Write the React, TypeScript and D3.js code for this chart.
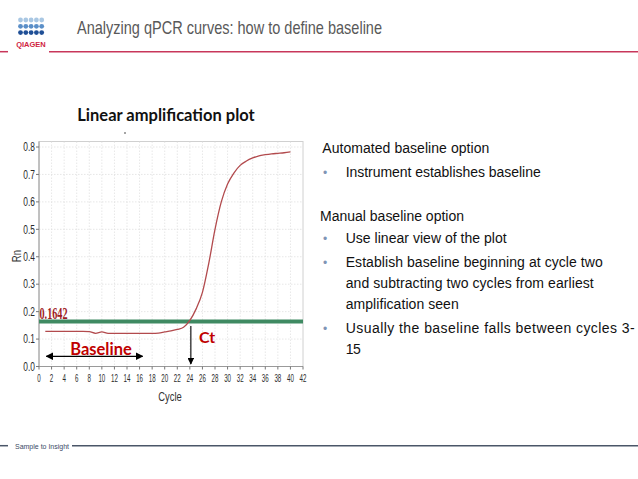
import React from "react";
import * as d3 from "d3";

const cycles = [1,2,3,4,5,6,7,8,9,10,11,12,13,14,15,16,17,18,19,20,21,22,23,24,25,26,27,28,29,30,31,32,33,34,35,36,37,38,39,40];
const rnValues = [0.128,0.128,0.128,0.128,0.128,0.128,0.128,0.127,0.121,0.126,0.121,0.121,0.121,0.121,0.121,0.121,0.121,0.121,0.122,0.126,0.13,0.135,0.143,0.168,0.21,0.27,0.375,0.5,0.6,0.665,0.705,0.733,0.749,0.76,0.768,0.772,0.775,0.777,0.779,0.782];
const threshold = 0.1642;
const xTicks = d3.range(0, 43, 2);
const yTicks = [0, 0.1, 0.2, 0.3, 0.4, 0.5, 0.6, 0.7, 0.8];
const ctCycle = 24;
const baselineRange = [1, 16];

const headingAuto = "Automated baseline option";
const bulletsAuto = ["Instrument establishes baseline"];
const headingManual = "Manual baseline option";
const bulletsManual = [
  ["Use linear view of the plot"],
  ["Establish baseline beginning  at cycle two", "and subtracting two cycles from earliest", "amplification seen"],
  ["Usually  the baseline falls between cycles 3-", "15"],
];
const manualWidths = [[161], [257, 248, 113], [289, 15]];

function Narrow({ x, y, anchor = "start", size, sx = 0.78, fill = "#333", children }: any) {
  return (
    <text transform={`translate(${x},${y}) scale(${sx},1)`} textAnchor={anchor} fontFamily="'Liberation Sans', Arial, sans-serif" fontSize={size} fill={fill}>
      {children}
    </text>
  );
}

export default function App() {
  const x = d3.scaleLinear().domain([0, 42]).range([39, 303]);
  const y = d3.scaleLinear().domain([0, 0.8]).range([366.5, 147]);
  const line = d3.line<number>().x((_, i) => x(cycles[i])).y((d) => y(d)).curve(d3.curveMonotoneX);
  const sans = "'Liberation Sans', Arial, sans-serif";
  const calibri = "Lato, 'Open Sans', sans-serif";
  const dotBlues = ["#a9c7e3", "#5b8fc8", "#1f4f96"];

  let ty = 243.3;
  const manualLines: any[] = [];
  bulletsManual.forEach((b, bi) => {
    b.forEach((t, li) => {
      if (li === 0) manualLines.push(<text key={`b${bi}`} x={323} y={ty} fill="#7f95b5" fontSize={12}>•</text>);
      manualLines.push(
        <text key={`t${bi}-${li}`} x={345.7} y={ty} textLength={manualWidths[bi][li]} lengthAdjust="spacing">{t}</text>
      );
      ty += 21;
    });
    ty += 3;
  });

  return (
    <div style={{ position: "absolute", left: 0, top: 0 }}>
      <svg width={638} height={479} style={{ display: "block", background: "#fff" }}>
        {/* Header */}
        {dotBlues.map((c, r) =>
          d3.range(5).map((k) => (
            <circle key={`d${r}-${k}`} cx={20.5 + k * 5.3} cy={20 + r * 6.3} r={2.4} fill={c} />
          ))
        )}
        <text x={31} y={47} textAnchor="middle" fontFamily={sans} fontWeight="bold" fontSize={7.5} fill="#d0243f">QIAGEN</text>
        <line x1={0} x2={8} y1={51.7} y2={51.7} stroke="#c8365a" strokeWidth={1.5} />
        <line x1={49} x2={638} y1={51.7} y2={51.7} stroke="#c8365a" strokeWidth={1.5} />
        <text x={77} y={34.3} fontFamily={sans} fontSize={18.5} fill="#595959" textLength={305} lengthAdjust="spacingAndGlyphs">Analyzing qPCR curves: how to define baseline</text>

        {/* Chart title */}
        <text x={166} y={120.5} textAnchor="middle" fontFamily={calibri} fontWeight="bold" fontSize={16.5} fill="#111">Linear amplification plot</text>
        <circle cx={125} cy={133} r={0.8} fill="#333" />

        {/* Plot frame & grid */}
        <rect x={x(0)} y={141.5} width={x(42) - x(0)} height={y(0) - 141.5} fill="none" stroke="#d0d0d0" strokeWidth={1} />
        {xTicks.slice(1, -1).map((t) => (
          <line key={`gx${t}`} x1={x(t)} x2={x(t)} y1={141.5} y2={y(0)} stroke="#dcdcdc" strokeWidth={0.7} strokeDasharray="1.5,1.5" />
        ))}
        {yTicks.slice(1).map((t) => (
          <line key={`gy${t}`} x1={x(0)} x2={x(42)} y1={y(t)} y2={y(t)} stroke="#dcdcdc" strokeWidth={0.7} strokeDasharray="1.5,1.5" />
        ))}
        {/* Axes */}
        <line x1={x(0)} x2={x(0)} y1={141.5} y2={y(0)} stroke="#9a9a9a" strokeWidth={1} />
        <line x1={x(0)} x2={x(42)} y1={y(0)} y2={y(0)} stroke="#9a9a9a" strokeWidth={1} />
        {yTicks.map((t) => (
          <g key={`yt${t}`}>
            <line x1={x(0) - 3} x2={x(0)} y1={y(t)} y2={y(t)} stroke="#777" />
            <Narrow x={x(0) - 4} y={y(t) + 4.2} anchor="end" size={12} sx={0.7} fill="#2a2a2a">{t.toFixed(1)}</Narrow>
          </g>
        ))}
        {xTicks.map((t) => (
          <g key={`xt${t}`}>
            <line x1={x(t)} x2={x(t)} y1={y(0)} y2={y(0) + 3} stroke="#777" />
            <Narrow x={x(t)} y={381.5} anchor="middle" size={10} sx={0.62} fill="#2a2a2a">{t}</Narrow>
          </g>
        ))}
        <Narrow x={170} y={400.5} anchor="middle" size={12.5} sx={0.75}>Cycle</Narrow>
        <g transform="translate(21,256) rotate(-90)">
          <Narrow x={0} y={0} anchor="middle" size={12} sx={0.8}>Rn</Narrow>
        </g>

        {/* Threshold */}
        <line x1={x(0)} x2={x(42)} y1={y(threshold)} y2={y(threshold)} stroke="#3f8a62" strokeWidth={4} />
        <text x={39.5} y={318.5} fontFamily="'Liberation Serif', serif" fontWeight="bold" fontSize={16} fill="#9e1b22" textLength={28} lengthAdjust="spacingAndGlyphs">{threshold.toString()}</text>

        {/* Curve */}
        <path d={line(rnValues) || ""} fill="none" stroke="#b24a4d" strokeWidth={1.3} />

        {/* Baseline arrow */}
        <defs>
          <marker id="ah" viewBox="0 0 10 10" refX={9} refY={5} markerWidth={6} markerHeight={6} orient="auto-start-reverse">
            <path d="M0,0 L10,5 L0,10 z" fill="#000" />
          </marker>
        </defs>
        <line x1={x(baselineRange[0]) + 1} x2={x(baselineRange[1]) + 3} y1={356.3} y2={356.3} stroke="#000" strokeWidth={1.3} markerStart="url(#ah)" markerEnd="url(#ah)" />
        <text x={101} y={355} textAnchor="middle" fontFamily={calibri} fontWeight="bold" fontSize={16.5} fill="#c00000">Baseline</text>

        {/* Ct arrow */}
        <line x1={x(ctCycle) + 1} x2={x(ctCycle) + 1} y1={326} y2={364} stroke="#000" strokeWidth={1.1} markerEnd="url(#ah)" />
        <text x={199} y={342.5} fontFamily={calibri} fontWeight="bold" fontSize={16} fill="#c00000">Ct</text>

        {/* Right text */}
        <g fontFamily={sans} fontSize={14} fill="#111">
          <text x={322.3} y={152.7} textLength={167} lengthAdjust="spacing">{headingAuto}</text>
          <text x={323} y={176.7} fill="#7f95b5" fontSize={12}>•</text>
          <text x={345.7} y={176.7} textLength={195} lengthAdjust="spacing">{bulletsAuto[0]}</text>
          <text x={320} y={220.7} textLength={144} lengthAdjust="spacing">{headingManual}</text>
          {manualLines}
        </g>

        {/* Footer */}
        <line x1={0} x2={8} y1={445.7} y2={445.7} stroke="#4a5668" strokeWidth={1.5} />
        <line x1={72} x2={638} y1={445.7} y2={445.7} stroke="#4a5668" strokeWidth={1.5} />
        <text x={15} y={448.5} fontFamily={sans} fontSize={8} fill="#3b4a66" textLength={54} lengthAdjust="spacingAndGlyphs">Sample to Insight</text>
      </svg>
    </div>
  );
}
